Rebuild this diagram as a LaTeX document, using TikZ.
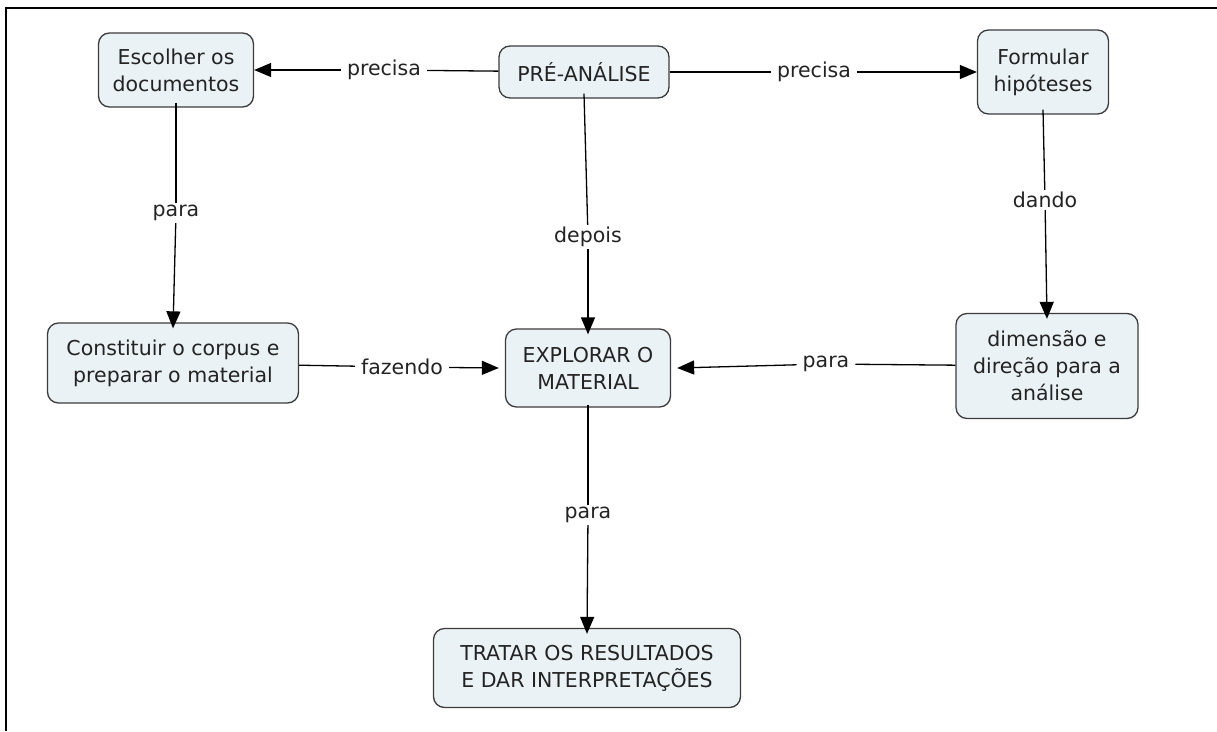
\documentclass[tikz,border=0pt]{standalone}
\usepackage{fontspec}
\setmainfont{DejaVu Sans}
\usetikzlibrary{arrows.meta}
\definecolor{boxfill}{RGB}{235,242,245}
\definecolor{boxline}{RGB}{60,60,60}
\definecolor{txt}{RGB}{35,35,35}
\tikzset{
  concept/.style={draw=boxline, fill=boxfill, line width=1.3pt, rounded corners=11pt,
    align=center, text=txt, font=\fontsize{20.5}{27}\selectfont, inner sep=0pt},
  linkword/.style={fill=white, text=txt, font=\fontsize{20.5}{27}\selectfont, inner xsep=6pt, inner ysep=2pt},
  link/.style={line width=1.3pt, black},
  arrowlink/.style={link, -{Triangle[length=17pt,width=14pt]}}
}
\begin{document}
\begin{tikzpicture}[x=1pt,y=-1pt]
\useasboundingbox (0,0) rectangle (1217,731);
% frame
\draw[line width=2.2pt] (6,731) -- (6,8) -- (1217,8);

% concepts
\node[concept, minimum width=155pt, minimum height=74pt] (esc) at (176,70) {Escolher os\\documentos};
\node[concept, minimum width=170pt, minimum height=52pt] (pre) at (584,72) {PRÉ-ANÁLISE};
\node[concept, minimum width=131pt, minimum height=84pt] (for) at (1043,72) {Formular\\hipóteses};
\node[concept, minimum width=251pt, minimum height=80pt] (con) at (173,363) {Constituir o corpus e\\preparar o material};
\node[concept, minimum width=165pt, minimum height=78pt] (exp) at (588,368) {EXPLORAR O\\MATERIAL};
\node[concept, minimum width=182pt, minimum height=105pt] (dim) at (1047,366) {dimensão e\\direção para a\\análise};
\node[concept, minimum width=307pt, minimum height=79pt] (tra) at (587,668) {TRATAR OS RESULTADOS\\E DAR INTERPRETAÇÕES};

% linking words
\node[linkword] (l1) at (384,70) {precisa};
\node[linkword] (l2) at (814,72) {precisa};
\node[linkword] (l3) at (176,213) {para};
\node[linkword] (l4) at (588,237) {depois};
\node[linkword] (l5) at (1045,200) {dando};
\node[linkword] (l6) at (402,367) {fazendo};
\node[linkword] (l7) at (826,364) {para};
\node[linkword] (l8) at (588,515) {para};

% connectors
\draw[link] ([yshift=5pt]esc.south) -- (l3);
\draw[arrowlink] (l3) -- ([yshift=-6pt]con.north);
\draw[link] (pre) -- (l1);
\draw[arrowlink] (l1) -- (esc);
\draw[link] (pre) -- (l2);
\draw[arrowlink] (l2) -- (for);
\draw[link] ([yshift=5pt]pre.south) -- (l4);
\draw[arrowlink] (l4) -- ([yshift=-6pt]exp.north);
\draw[link] ([yshift=5pt]for.south) -- (l5);
\draw[arrowlink] (l5) -- ([yshift=-6pt]dim.north);
\draw[link] (con) -- (l6);
\draw[arrowlink] (l6) -- ([xshift=-6pt]exp.west);
\draw[link] (dim) -- (l7);
\draw[arrowlink] (l7) -- ([xshift=6pt]exp.east);
\draw[link] ([yshift=3pt]exp.south) -- (l8);
\draw[arrowlink] (l8) -- ([yshift=-6pt]tra.north);
\end{tikzpicture}
\end{document}
